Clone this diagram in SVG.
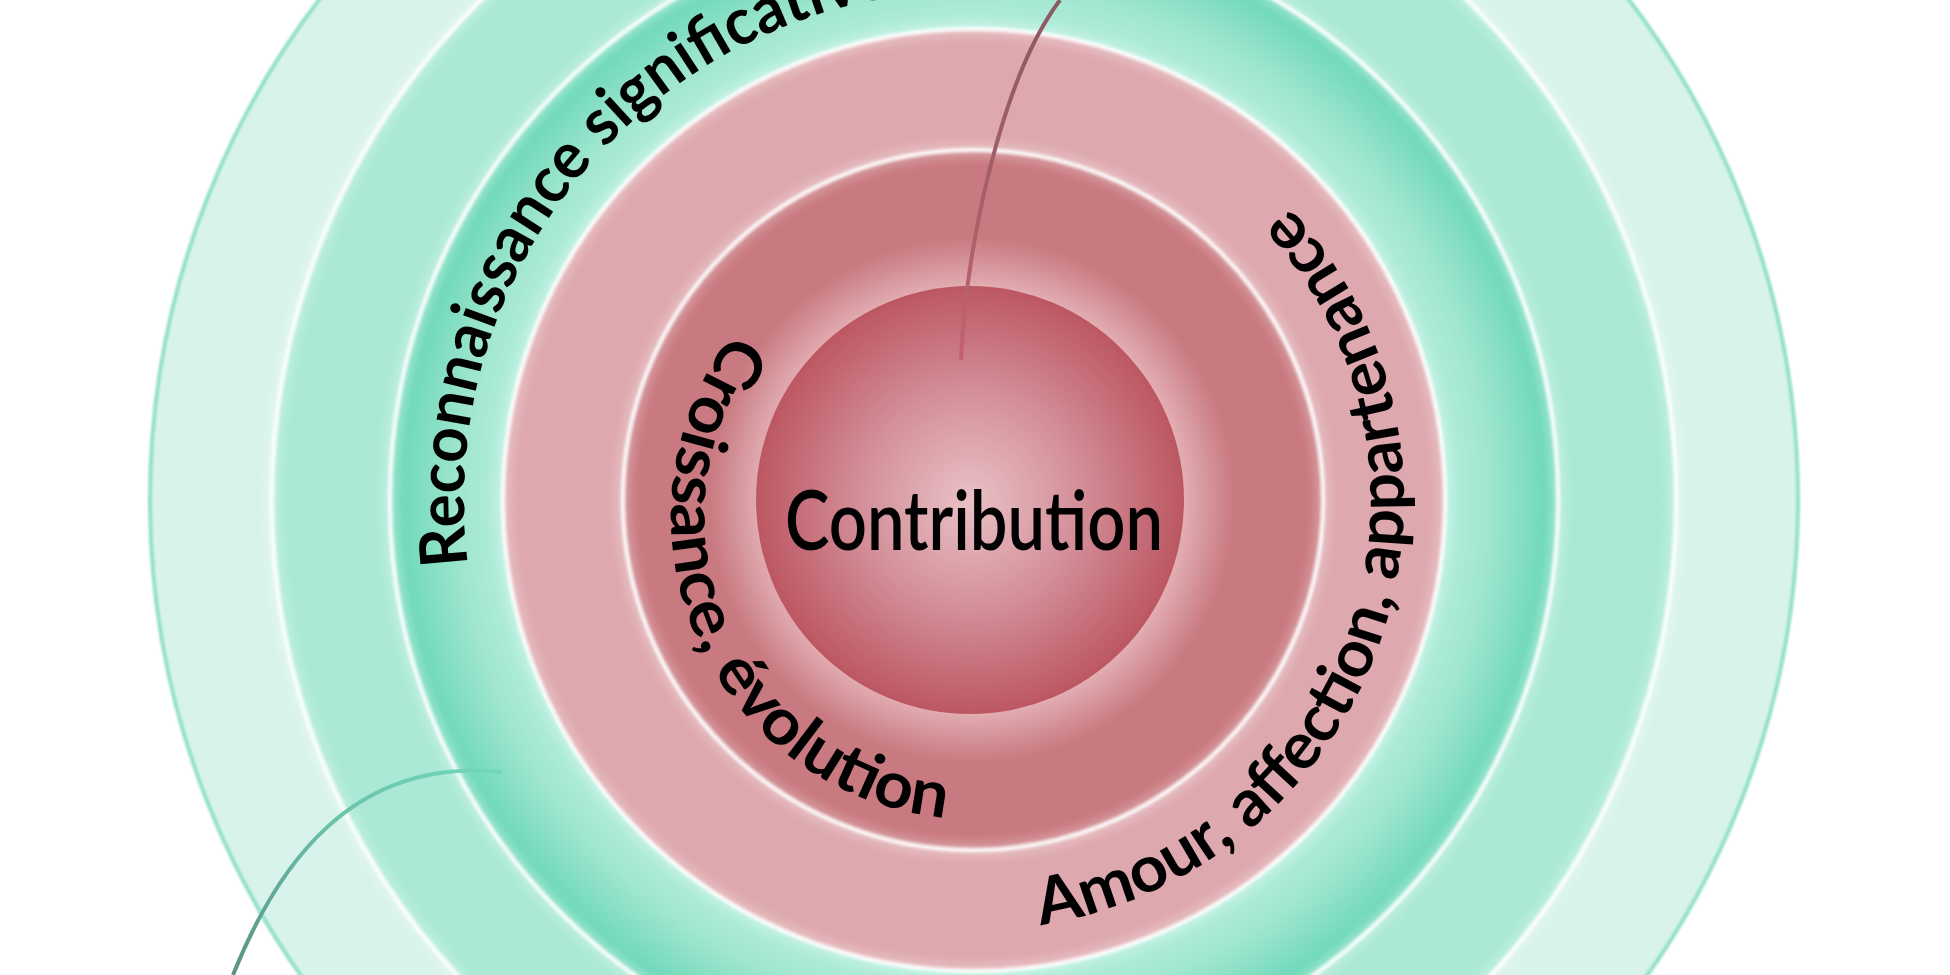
<svg xmlns="http://www.w3.org/2000/svg" xmlns:xlink="http://www.w3.org/1999/xlink" width="1950" height="975" viewBox="0 0 1950 975">
<defs>
<style>
.lbl{font-family:Lato,"Liberation Sans",sans-serif;fill:#000;}
.curve{font-size:65px;font-weight:bold;}
.sep{fill:none;stroke:#ffffff;stroke-width:4.5;opacity:0.9;filter:url(#blur)}
.glow{fill:none;stroke:#ffffff;stroke-width:16;opacity:0.22;filter:url(#blur3)}
.conn{fill:none;stroke-width:4;}
</style>
<filter id="blur" x="-10%" y="-10%" width="120%" height="120%"><feGaussianBlur stdDeviation="1.6"/></filter>
<filter id="blur2" x="-10%" y="-10%" width="120%" height="120%"><feGaussianBlur stdDeviation="1.2"/></filter>
<filter id="blur3" x="-10%" y="-10%" width="120%" height="120%"><feGaussianBlur stdDeviation="4"/></filter>
<radialGradient id="gCore" gradientUnits="userSpaceOnUse" cx="970" cy="500" r="214">
<stop offset="0" stop-color="#e9c1c5"/>
<stop offset="0.5" stop-color="#d4909a"/>
<stop offset="1" stop-color="#bc5762"/>
</radialGradient>
<radialGradient id="gR1" gradientUnits="userSpaceOnUse" cx="972" cy="500" r="350">
<stop offset="0.6" stop-color="#e4b0b5"/>
<stop offset="0.66" stop-color="#d79aa0"/>
<stop offset="0.75" stop-color="#c97a80"/>
<stop offset="1" stop-color="#c97a80"/>
</radialGradient>
<radialGradient id="gR3" gradientUnits="userSpaceOnUse" cx="974" cy="500" r="584">
<stop offset="0.8" stop-color="#b6eedd"/>
<stop offset="0.88" stop-color="#a0e6d0"/>
<stop offset="0.98" stop-color="#71d9ba"/>
<stop offset="1" stop-color="#7adcbf"/>
</radialGradient>
<linearGradient id="gTop" gradientUnits="userSpaceOnUse" x1="1060" y1="0" x2="961" y2="360">
<stop offset="0" stop-color="#8a5a62"/>
<stop offset="0.6" stop-color="#a8606a"/>
<stop offset="1" stop-color="#c4626e"/>
</linearGradient>
<linearGradient id="gBot" gradientUnits="userSpaceOnUse" x1="502" y1="772" x2="233" y2="975">
<stop offset="0" stop-color="#72d7b9"/>
<stop offset="0.5" stop-color="#69c3a7"/>
<stop offset="1" stop-color="#5a9386"/>
</linearGradient>
<path id="pRec" d="M 974 1010 A 510 510 0 0 1 974 -10 A 510 510 0 0 1 974 1010"/>
<path id="pCro" d="M 974 213 A 303 303 0 0 0 974 819 A 303 303 0 0 0 974 213"/>
<path id="pAmo" d="M 974 930 A 430 430 0 0 0 974 70 A 430 430 0 0 0 974 930"/>
</defs>
<rect width="1950" height="975" fill="#ffffff"/>
<g id="ring5">
<circle cx="974" cy="500" r="824" fill="#d8f3ec"/>
<circle cx="974" cy="500" r="824" fill="none" stroke="#93e0c8" stroke-width="4" filter="url(#blur2)"/>
</g>
<g id="ring4">
<circle cx="974" cy="500" r="702" fill="#abe9d6"/>
<circle class="glow" cx="974" cy="500" r="702"/>
<circle class="sep" cx="974" cy="500" r="702"/>
</g>
<g id="ring3">
<circle cx="974" cy="500" r="584" fill="url(#gR3)"/>
<circle class="glow" cx="974" cy="500" r="584"/>
<circle class="sep" cx="974" cy="500" r="584"/>
<text class="lbl curve"><textPath xlink:href="#pRec" href="#pRec" startOffset="736" textLength="783" lengthAdjust="spacingAndGlyphs">Reconnaissance significative</textPath></text>
</g>
<g id="ring2">
<circle cx="974" cy="500" r="471" fill="#dea9ae"/>
<circle class="glow" cx="974" cy="500" r="471"/>
<circle class="sep" cx="974" cy="500" r="471"/>
<text class="lbl curve"><textPath xlink:href="#pAmo" href="#pAmo" startOffset="67" textLength="930" lengthAdjust="spacingAndGlyphs">Amour, affection, appartenance</textPath></text>
</g>
<g id="ring1">
<circle cx="973" cy="500" r="350" fill="url(#gR1)"/>
<circle class="glow" cx="973" cy="500" r="350"/>
<circle class="sep" cx="973" cy="500" r="350"/>
<text class="lbl curve"><textPath xlink:href="#pCro" href="#pCro" startOffset="278" textLength="645" lengthAdjust="spacingAndGlyphs">Croissance, évolution</textPath></text>
</g>
<g id="core">
<circle cx="970" cy="500" r="214" fill="url(#gCore)"/>
<text class="lbl" x="974" y="550" font-size="82" font-weight="600" text-anchor="middle" textLength="378" lengthAdjust="spacingAndGlyphs">Contribution</text>
</g>
<g id="connectors">
<path class="conn" stroke="url(#gTop)" d="M 961 360 C 966 250 1000 80 1060 0"/>
<path class="conn" stroke="url(#gBot)" d="M 502 772 C 352 757 277 865 233 975"/>
</g>
</svg>
